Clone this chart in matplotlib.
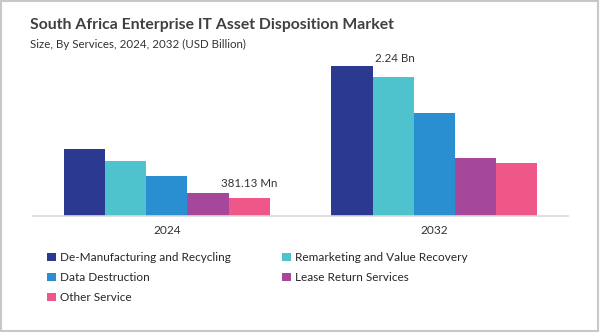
import matplotlib.pyplot as plt
from matplotlib.patches import Rectangle, Patch

plt.rcParams['font.family'] = ['Lato', 'DejaVu Sans']

# data (USD billion)
years = ['2024', '2032']
services = ['De-Manufacturing and Recycling', 'Remarketing and Value Recovery',
            'Data Destruction', 'Lease Return Services', 'Other Service']
demanufacturing = [1.073, 2.24]
remarketing = [0.898, 2.094]
data_destruction = [0.692, 1.586]
lease_return = [0.446, 0.946]
other_service = [0.381, 0.870]

colors = ['#2B3990', '#4EC3CE', '#2A8FD0', '#A5489B', '#EF5789']
series = [demanufacturing, remarketing, data_destruction, lease_return, other_service]

fig = plt.figure(figsize=(6, 3.32), dpi=100)
ax = fig.add_axes([0.055, 0.3503, 0.892, 0.5052])

w = 0.154
for i, (vals, c) in enumerate(zip(series, colors)):
    xs = [k + (i - 2) * w for k in range(len(years))]
    ax.bar(xs, vals, width=w, color=c, edgecolor='none', label=services[i])

ax.set_xlim(-0.5, 1.5)
ax.set_ylim(0.131, 2.5)
ax.set_xticks(range(len(years)))
ax.set_xticklabels(years, fontsize=8.6, color='#333333')
ax.tick_params(axis='x', length=0, pad=6.5)
ax.set_yticks([])
for s in ['top', 'right', 'left']:
    ax.spines[s].set_visible(False)
ax.spines['bottom'].set_color('#D9D9D9')
ax.spines['bottom'].set_linewidth(1.2)

# value labels
ax.annotate('2.24 Bn', xy=(1 - 2 * w + 0.16, demanufacturing[1]), xytext=(0, 2),
            textcoords='offset points', ha='center', va='bottom', fontsize=8.3, color='#333333')
ax.annotate('381.13 Mn', xy=(0 + 2 * w, other_service[0]), xytext=(0, 6.5),
            textcoords='offset points', ha='center', va='bottom', fontsize=8.3, color='#333333')

# titles
fig.text(0.05, 1 - 25 / 332, 'South Africa Enterprise IT Asset Disposition Market',
         fontsize=11.3, fontweight='bold', color='#404040', va='center')
fig.text(0.05, 1 - 44.5 / 332, 'Size, By Services, 2024, 2032 (USD Billion)',
         fontsize=8.3, color='#333333', va='center')

# legend in two columns, filled row by row
def handles(idx):
    return [Patch(facecolor=colors[i], edgecolor='none') for i in idx]

leg_kw = dict(frameon=False, fontsize=8.5, handlelength=0.72, handleheight=0.72,
              handletextpad=0.4, labelspacing=0.78, borderaxespad=0, borderpad=0,
              labelcolor='#262626')
fig.legend(handles([0, 2, 4]), [services[i] for i in [0, 2, 4]],
           loc='upper left', bbox_to_anchor=(47 / 600, 1 - 252 / 332), **leg_kw)
fig.legend(handles([1, 3]), [services[i] for i in [1, 3]],
           loc='upper left', bbox_to_anchor=(282 / 600, 1 - 252 / 332), **leg_kw)

# light frame around the figure
fig.patches.append(Rectangle((0.002, 0.003), 0.995, 0.994, transform=fig.transFigure,
                             fill=False, edgecolor='#C8C8C8', linewidth=1.5))

fig.savefig('out.png', dpi=100, facecolor='white')
